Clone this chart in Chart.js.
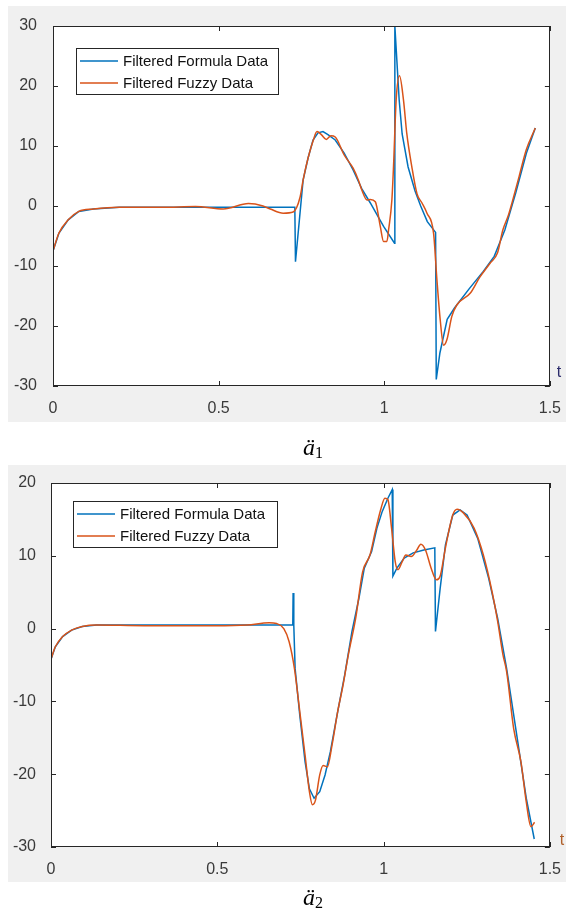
<!DOCTYPE html>
<html>
<head>
<meta charset="utf-8">
<script src="https://cdn.jsdelivr.net/npm/chart.js@4.4.0/dist/chart.umd.min.js"></script>
<style>
  html, body { margin: 0; padding: 0; background: #fff; }
  body { width: 566px; height: 917px; position: relative; overflow: hidden; }
  .panel { position: absolute; left: 8px; width: 558px; background: #f0f0f0; }
  canvas { position: absolute; left: 0; }
  .caption { position: absolute; font-family: "Liberation Serif", "DejaVu Serif", serif; font-size: 24px; line-height: 24px; color: #000; white-space: nowrap; }
  .caption i { font-style: italic; }
  .caption span { font-size: 16px; position: relative; top: 3px; }
</style>
</head>
<body>
<div class="panel" style="top:6px;height:416px"></div>
<div class="panel" style="top:465px;height:417px"></div>
<canvas id="chartA1" width="566" height="425" style="top:0"></canvas>
<canvas id="chartA2" width="566" height="440" style="top:455px"></canvas>
<div class="caption" style="left:303px;top:435px"><i>ä</i><span>1</span></div>
<div class="caption" style="left:303px;top:885px"><i>ä</i><span>2</span></div>

<script>
// ---- datos ----
const xTicks = [0, 0.5, 1, 1.5];
const yTicks1 = [-30, -20, -10, 0, 10, 20, 30];
const yTicks2 = [-30, -20, -10, 0, 10, 20];
const seriesNames = ["Filtered Formula Data", "Filtered Fuzzy Data"];

// gráfico 1 (ä1)
const formula1T = [0, 0.018, 0.046, 0.078, 0.122, 0.2, 0.33, 0.5, 0.730, 0.732, 0.755, 0.77, 0.785, 0.80, 0.815, 0.83, 0.852, 0.879, 0.906, 0.932, 0.958, 0.998, 1.031, 1.032, 1.045, 1.054, 1.072, 1.093, 1.11, 1.13, 1.155, 1.157, 1.168, 1.19, 1.212, 1.255, 1.299, 1.332, 1.364, 1.397, 1.429, 1.456];
const formula1V = [-7.5, -4.5, -2.3, -0.9, -0.5, -0.2, -0.2, -0.2, -0.2, -9.3, 4.3, 8, 11, 12.2, 12.4, 11.9, 11.0, 8.8, 6.0, 2.9, 0.5, -3.4, -6.2, 30, 17.7, 12, 6.5, 2.5, 0, -2.6, -4.4, -28.9, -24.5, -18.9, -17, -13.9, -10.9, -8.4, -4, 2.2, 8.8, 13];
const fuzzy1T = [0, 0.018, 0.046, 0.078, 0.122, 0.2, 0.33, 0.43, 0.514, 0.59, 0.634, 0.656, 0.695, 0.725, 0.746, 0.755, 0.77, 0.786, 0.797, 0.81, 0.825, 0.839, 0.852, 0.879, 0.906, 0.922, 0.932, 0.948, 0.958, 0.973, 0.988, 0.998, 1.008, 1.013, 1.023, 1.028, 1.036, 1.046, 1.058, 1.068, 1.083, 1.099, 1.114, 1.129, 1.149, 1.159, 1.169, 1.179, 1.189, 1.204, 1.219, 1.26, 1.288, 1.32, 1.342, 1.358, 1.375, 1.386, 1.407, 1.429, 1.456];
const fuzzy1V = [-7.5, -4.5, -2.3, -0.9, -0.5, -0.2, -0.2, -0.1, -0.5, 0.4, 0, -0.5, -1.2, -1.0, 1.5, 4.3, 8, 11, 12.4, 11.9, 11.1, 11.7, 11.5, 8.5, 6.3, 4.3, 2.7, 1.0, 1.1, 0.7, -3.4, -5.9, -5.9, -4, 1, 6.6, 17.7, 21.7, 17.7, 12.1, 6.6, 2, 0.5, -1.2, -4.6, -12.3, -19, -23.2, -22.3, -18.4, -16.5, -14.5, -11.9, -9.5, -7.8, -4.0, -1.5, 0.6, 4.9, 9.4, 13.0];

// gráfico 2 (ä2)
const formula2T = [0, 0.013, 0.035, 0.062, 0.094, 0.137, 0.28, 0.5, 0.727, 0.728, 0.730, 0.734, 0.748, 0.764, 0.777, 0.791, 0.808, 0.824, 0.84, 0.862, 0.883, 0.905, 0.926, 0.942, 0.964, 0.98, 0.996, 1.013, 1.026, 1.028, 1.04, 1.062, 1.089, 1.121, 1.154, 1.156, 1.17, 1.186, 1.208, 1.23, 1.251, 1.283, 1.316, 1.343, 1.37, 1.402, 1.429, 1.453];
const formula2V = [-4.2, -2.5, -1.1, -0.2, 0.3, 0.5, 0.5, 0.5, 0.5, 4.9, 0.5, -5.5, -11.9, -18.3, -22, -23.3, -22.4, -20.1, -16.9, -11.4, -6.4, -0.4, 4.2, 8.3, 10.6, 13.8, 16.1, 17.9, 19.1, 7.2, 8.3, 9.7, 10.4, 10.8, 11.1, -0.4, 5.5, 11.5, 15.6, 16.3, 15.6, 12.4, 6.9, 1.4, -5.5, -15.1, -23.3, -28.9];
const fuzzy2T = [0, 0.013, 0.035, 0.062, 0.094, 0.137, 0.28, 0.494, 0.59, 0.656, 0.678, 0.70, 0.716, 0.732, 0.748, 0.764, 0.777, 0.786, 0.795, 0.808, 0.818, 0.831, 0.845, 0.862, 0.878, 0.894, 0.916, 0.937, 0.959, 0.975, 0.991, 1.004, 1.013, 1.024, 1.035, 1.043, 1.056, 1.067, 1.083, 1.1, 1.112, 1.126, 1.143, 1.159, 1.17, 1.186, 1.208, 1.221, 1.24, 1.272, 1.3, 1.326, 1.343, 1.359, 1.37, 1.391, 1.413, 1.429, 1.443, 1.454];
const fuzzy2V = [-4.2, -2.5, -1.1, -0.2, 0.3, 0.5, 0.4, 0.4, 0.5, 0.8, 0.7, 0, -1.8, -5.5, -11.4, -17.4, -22.4, -24.2, -23.6, -20.1, -18.8, -19, -16, -11.4, -7.8, -3.6, 1.4, 7.8, 10.1, 13.3, 16.3, 17.9, 17.7, 13.8, 9.2, 8.1, 9.2, 10.1, 9.9, 10.8, 11.6, 10.8, 8.3, 6.7, 7.2, 11.1, 15.6, 16.4, 15.9, 13.8, 10.1, 5.1, 1.0, -3.6, -5.9, -13.7, -18.3, -23.8, -27.2, -26.6];

const azul = "#0072bd";
const naranja = "#d95319";
const ejeColor = "#262626";
const textoColor = "#3a3a3a";

function puntos(t, v) {
    return t.map((x, i) => ({ x: x, y: v[i] }));
}

// === plugin estilo MATLAB: fondo blanco, caja, ticks hacia dentro, leyenda ===
const matlabEjes = {
    id: "matlabEjes",
    beforeDraw(chart) {
        const a = chart.chartArea;
        const ctx = chart.ctx;
        ctx.save();
        ctx.fillStyle = "#ffffff";
        ctx.fillRect(a.left, a.top, a.right - a.left, a.bottom - a.top);
        ctx.restore();
    },
    afterDatasetsDraw(chart, args, opts) {
        const a = chart.chartArea;
        const ctx = chart.ctx;
        const xs = chart.scales.x;
        const ys = chart.scales.y;
        ctx.save();
        ctx.strokeStyle = ejeColor;
        ctx.lineWidth = 1;
        ctx.strokeRect(Math.round(a.left) + 0.5, Math.round(a.top) + 0.5,
            Math.round(a.right - a.left) - 1, Math.round(a.bottom - a.top) - 1);

        // ticks hacia dentro
        ctx.beginPath();
        xs.ticks.forEach(tk => {
            const px = Math.round(xs.getPixelForValue(tk.value)) + 0.5;
            ctx.moveTo(px, a.bottom); ctx.lineTo(px, a.bottom - 5);
            ctx.moveTo(px, a.top); ctx.lineTo(px, a.top + 5);
        });
        ys.ticks.forEach(tk => {
            const py = Math.round(ys.getPixelForValue(tk.value)) + 0.5;
            ctx.moveTo(a.left, py); ctx.lineTo(a.left + 5, py);
            ctx.moveTo(a.right, py); ctx.lineTo(a.right - 5, py);
        });
        ctx.stroke();

        // leyenda
        const lx = a.left + opts.legend.dx;
        const ly = a.top + opts.legend.dy;
        ctx.fillStyle = "#ffffff";
        ctx.fillRect(lx, ly, opts.legend.w, opts.legend.h);
        ctx.strokeStyle = ejeColor;
        ctx.strokeRect(Math.round(lx) + 0.5, Math.round(ly) + 0.5, opts.legend.w, opts.legend.h);
        ctx.font = "15px 'Liberation Sans', Arial, sans-serif";
        ctx.textBaseline = "middle";
        ctx.textAlign = "left";
        const filas = [13, 35];
        [azul, naranja].forEach((c, i) => {
            const y = ly + filas[i];
            ctx.strokeStyle = c;
            ctx.lineWidth = 1.5;
            ctx.beginPath();
            ctx.moveTo(lx + 4, y); ctx.lineTo(lx + 42, y);
            ctx.stroke();
            ctx.fillStyle = "#111111";
            ctx.fillText(seriesNames[i], lx + 47, y + 1);
        });

        // etiqueta t
        ctx.font = "16px 'Liberation Sans', Arial, sans-serif";
        ctx.fillStyle = opts.tLabel.color;
        ctx.textAlign = "center";
        ctx.fillText("t", a.right + opts.tLabel.dx, a.bottom + opts.tLabel.dy);
        ctx.restore();
    }
};

function crearGrafico(id, formula, fuzzy, yMin, yMax, yTicks, cfg) {
    const fuente = { family: "'Liberation Sans', Arial, sans-serif", size: 16 };
    return new Chart(document.getElementById(id), {
        type: "line",
        data: {
            datasets: [
                {
                    label: seriesNames[0],
                    data: formula,
                    borderColor: azul,
                    borderWidth: 1.5,
                    pointRadius: 0,
                    tension: 0,
                    order: 1
                },
                {
                    label: seriesNames[1],
                    data: fuzzy,
                    borderColor: naranja,
                    borderWidth: 1.5,
                    pointRadius: 0,
                    cubicInterpolationMode: "monotone",
                    order: 0
                }
            ]
        },
        options: {
            responsive: false,
            animation: false,
            events: [],
            layout: { padding: { top: cfg.top, right: cfg.right, left: 0, bottom: 0 } },
            plugins: {
                legend: { display: false },
                tooltip: { enabled: false },
                matlabEjes: { legend: cfg.legend, tLabel: cfg.tLabel }
            },
            scales: {
                x: {
                    type: "linear",
                    min: 0,
                    max: 1.5,
                    grid: { display: false },
                    border: { display: false },
                    afterBuildTicks: s => { s.ticks = xTicks.map(v => ({ value: v })); },
                    afterFit: s => { s.height = cfg.xHeight; },
                    ticks: {
                        font: fuente, color: textoColor, padding: cfg.xPad, maxRotation: 0, autoSkip: false,
                        callback: v => String(v)
                    }
                },
                y: {
                    type: "linear",
                    min: yMin,
                    max: yMax,
                    grid: { display: false },
                    border: { display: false },
                    afterBuildTicks: s => { s.ticks = yTicks.map(v => ({ value: v })); },
                    afterFit: s => { s.width = cfg.yWidth; },
                    ticks: {
                        font: fuente, color: textoColor, padding: cfg.yPad, autoSkip: false,
                        callback: v => String(v)
                    }
                }
            }
        },
        plugins: [matlabEjes]
    });
}

crearGrafico("chartA1", puntos(formula1T, formula1V), puntos(fuzzy1T, fuzzy1V), -30, 30, yTicks1, {
    top: 26, right: 16, xHeight: 39, yWidth: 53, xPad: 5, yPad: 8,
    legend: { dx: 23, dy: 22, w: 202, h: 46 },
    tLabel: { dx: 9, dy: -13, color: "#2b2b6b" }
});

crearGrafico("chartA2", puntos(formula2T, formula2V), puntos(fuzzy2T, fuzzy2V), -30, 20, yTicks2, {
    top: 28, right: 15, xHeight: 48, yWidth: 51, xPad: 5, yPad: 7,
    legend: { dx: 22, dy: 18, w: 204, h: 46 },
    tLabel: { dx: 12, dy: -6, color: "#b0602a" }
});
</script>
</body>
</html>
